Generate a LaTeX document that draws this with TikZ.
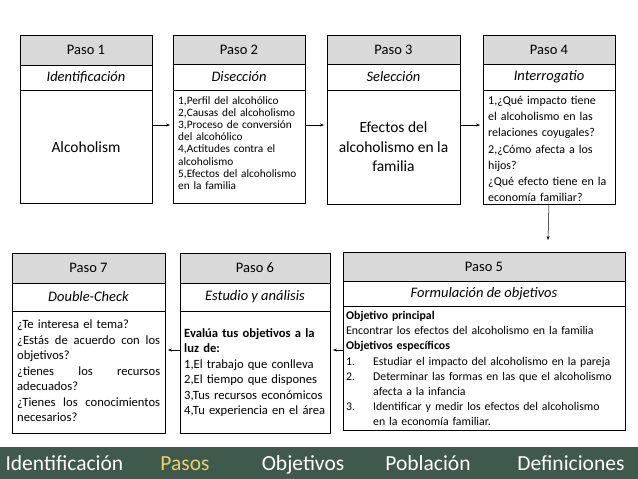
\documentclass[tikz,border=0pt]{standalone}
\usepackage{fontspec}
\setmainfont{Carlito}
\usetikzlibrary{arrows.meta}
\definecolor{hdr}{HTML}{D9D9D9}
\definecolor{bar}{HTML}{3F5A4C}
\definecolor{pas}{HTML}{E6D36A}
\newcommand{\jl}[1]{\makebox[143pt][l]{#1}}
\newcommand{\itm}[2]{\makebox[27pt][l]{#1}#2}
\begin{document}
\begin{tikzpicture}[x=1pt,y=-1pt,
  frame/.style={draw=black,line width=0.8pt},
  hd/.style={font=\fontsize{14.5}{16}\selectfont},
  sub/.style={font=\fontsize{14.5}{16}\selectfont\itshape},
  conn/.style={-{Stealth[length=4pt,width=3pt]},line width=0.5pt},
  bt/.style={font=\fontsize{21.5}{22}\selectfont,text=white,anchor=base}]
\useasboundingbox (0,0) rectangle (638,479);
\fill[white] (0,0) rectangle (638,479);
\newcommand{\stepbox}[8]{%
  \fill[hdr] (#2,#4) rectangle (#3,#5);
  \draw[frame] (#2,#4) rectangle (#3,#7);
  \draw[frame] (#2,#5) -- (#3,#5);
  \draw[frame] (#2,#6) -- (#3,#6);
  \node[hd] (#1h) at ({(#2+#3)/2},{(#4+#5)/2}) {#8};
  \coordinate (#1s) at ({(#2+#3)/2},#7);
}
\stepbox{a}{20}{152}{35}{65}{90}{203}{Paso 1}
\node[sub] at (86,77.5) {Identificación};
\node[font=\fontsize{15.5}{19}\selectfont] (at) at (86,147) {Alcoholism};
\stepbox{b}{173}{305}{35}{64}{90}{203}{Paso 2}
\node[sub] at (239,77) {Disección};
\node[font=\fontsize{11.3}{12.2}\selectfont,align=left,text width=128pt,anchor=north west,inner sep=0pt] (bt) at (178,96) {1,Perfil del alcohólico\\2,Causas del alcoholismo\\3,Proceso de conversión\\del alcohólico\\4,Actitudes contra el\\alcoholismo\\5,Efectos del alcoholismo\\en la familia};
\stepbox{c}{327}{460}{35}{64}{90}{204}{Paso 3}
\node[sub] at (393.5,77) {Selección};
\node[font=\fontsize{15.5}{19.5}\selectfont,align=center] (ct) at (393.5,147) {Efectos del\\alcoholismo en la\\familia};
\stepbox{d}{483}{615}{35}{64}{90}{204}{Paso 4}
\node[sub] at (549,77) {Interrogatio};
\node[font=\fontsize{12}{16.2}\selectfont,align=left,text width=128pt,anchor=north west,inner sep=0pt] (dt) at (488,96) {1,¿Qué impacto tiene\\el alcoholismo en las\\relaciones coyugales?\\2,¿Cómo afecta a los\\hijos?\\¿Qué efecto tiene en la\\economía familiar?};
\stepbox{e}{343}{625}{252}{281}{306}{430}{Paso 5}
\node[sub] at (484,293.5) {Formulación de objetivos};
\node[font=\fontsize{11.8}{15.2}\selectfont,align=left,text width=300pt,anchor=north west,inner sep=0pt] (et) at (346,311) {\textbf{Objetivo principal}\\Encontrar los efectos del alcoholismo en la familia\\\textbf{Objetivos específicos}\\\itm{1.}{Estudiar el impacto del alcoholismo en la pareja}\\\itm{2.}{Determinar las formas en las que el alcoholismo}\\\itm{}{afecta a la infancia}\\\itm{3.}{Identificar y medir los efectos del alcoholismo}\\\itm{}{en la economía familiar.}};
\stepbox{f}{180}{330}{253}{283}{311}{433}{Paso 6}
\node[sub] at (255,297) {Estudio y análisis};
\node[font=\fontsize{12.6}{15.5}\selectfont,align=left,text width=146pt,anchor=north west,inner sep=0pt] (ft) at (184,328) {\textbf{Evalúa tus objetivos a la}\\\textbf{luz de:}\\1,El trabajo que conlleva\\2,El tiempo que dispones\\3,Tus recursos económicos\\4,Tu experiencia en el área};
\stepbox{g}{12}{165}{253}{283}{311}{433}{Paso 7}
\node[sub] at (88.5,297) {Double-Check};
\node[font=\fontsize{12.6}{15.5}\selectfont,align=left,text width=146pt,anchor=north west,inner sep=0pt] (gt) at (17,320) {¿Te interesa el tema?\\\jl{¿Estás\hfill de\hfill acuerdo\hfill con\hfill los}\\objetivos?\\\jl{¿tienes\hfill los\hfill recursos}\\adecuados?\\\jl{¿Tienes\hfill los\hfill conocimientos}\\necesarios?};
\draw[conn] (152,125) -- (170,125);
\draw[conn] (305,125) -- (324,125);
\draw[conn] (460,125) -- (480,125);
\draw[conn] (ds) -- (548,240);
\draw[conn] (343,350) -- (333,350);
\draw[conn] (180,350) -- (168,350);
\fill[bar] (0,447) rectangle (638,479);
\node[bt,anchor=base west] (b1) at (2,470) {Identificación};
\node[bt,text=pas] (b2) at (185,470) {Pasos};
\node[bt] (b3) at (303,470) {Objetivos};
\node[bt] (b4) at (428,470) {Población};
\node[bt,anchor=base east] (b5) at (628,470) {Definiciones};
\end{tikzpicture}
\end{document}
